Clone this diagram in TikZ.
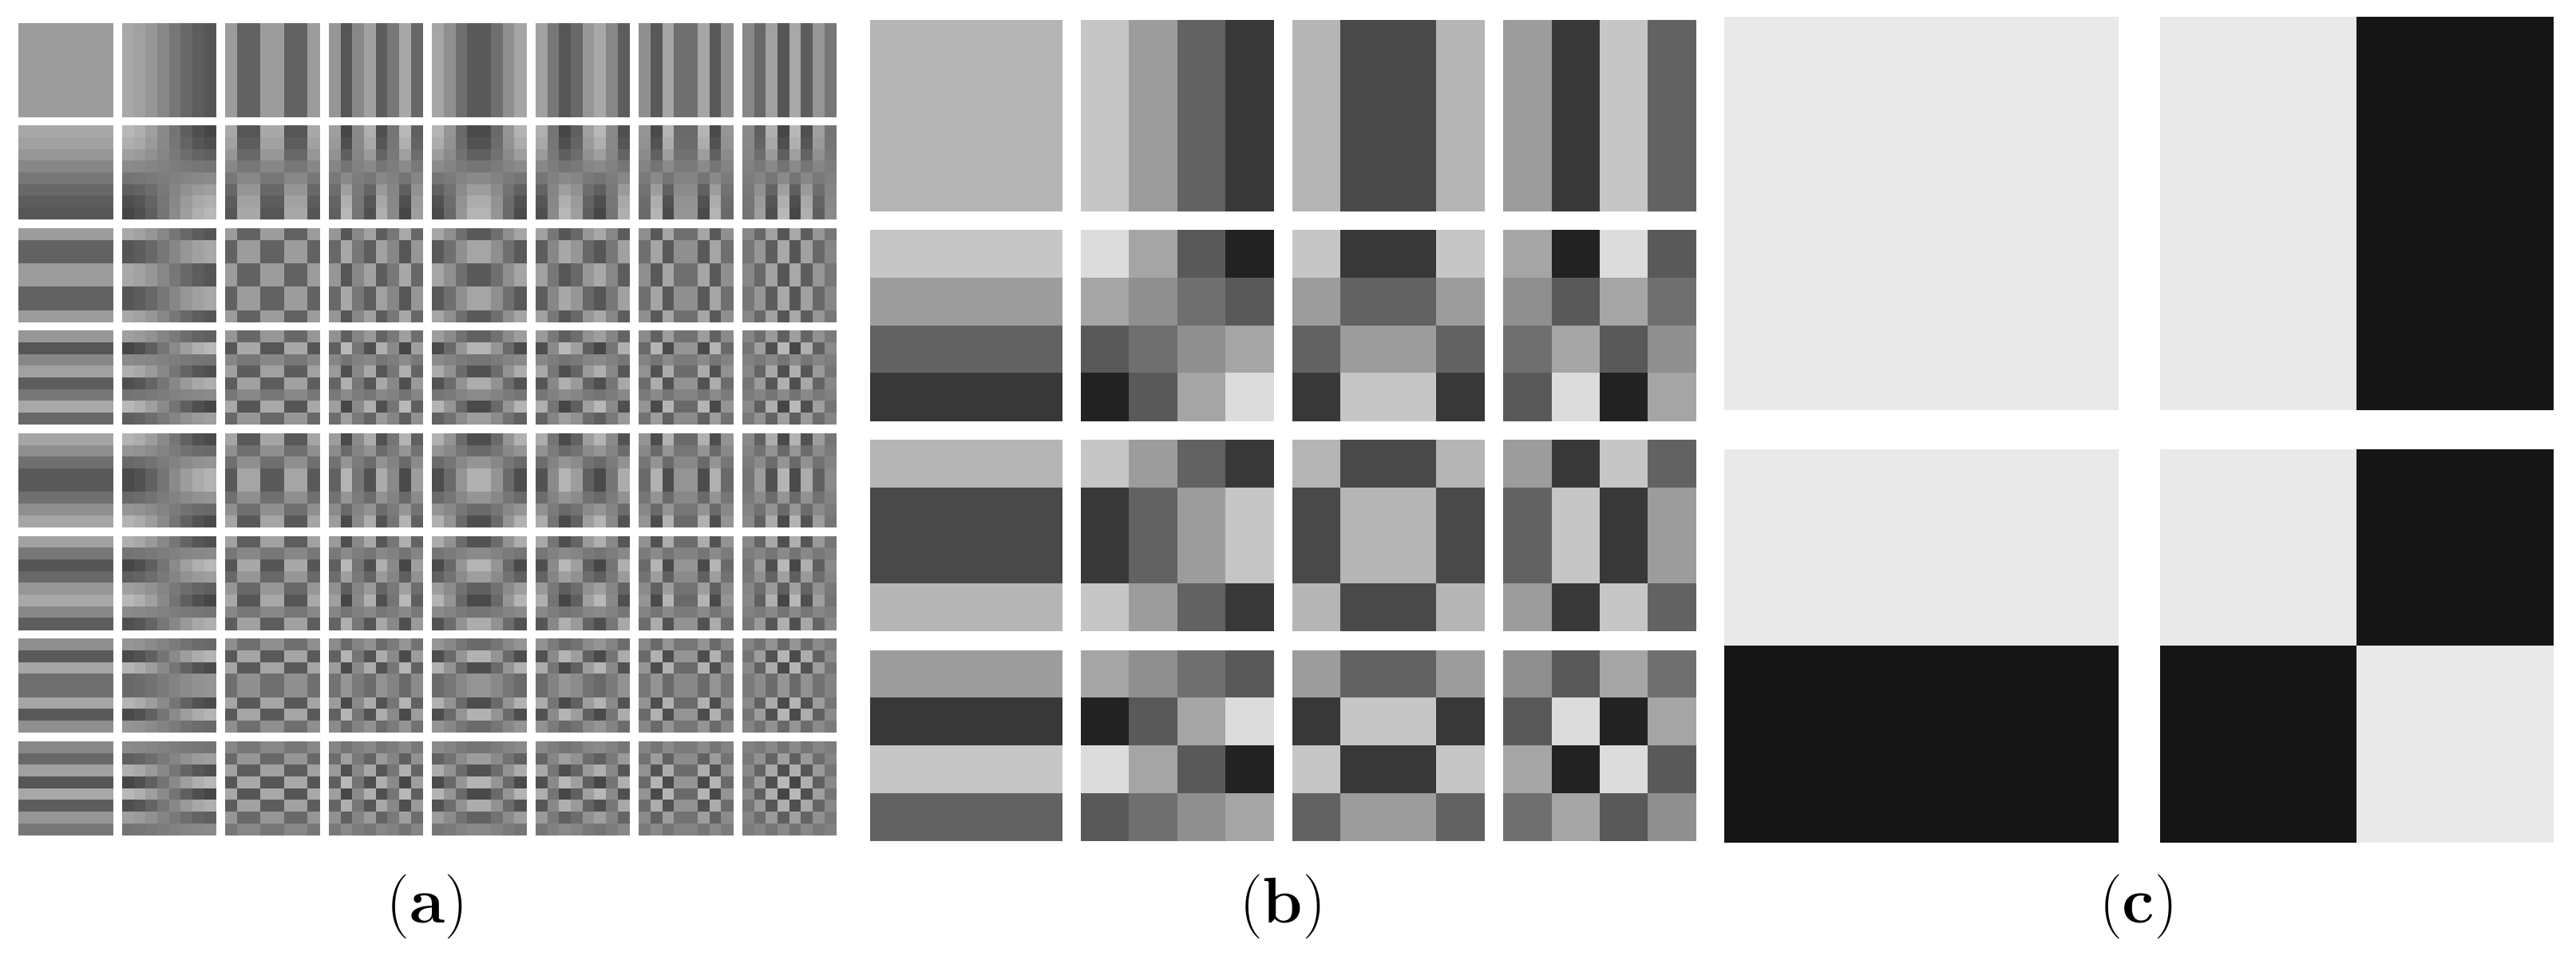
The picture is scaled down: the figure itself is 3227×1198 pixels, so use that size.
\documentclass[tikz,border=0pt]{standalone}
\usepackage{tikz}
% #1 N, #2 x0, #3 y0, #4 pitch x, #5 pitch y, #6 tile w, #7 tile h, #8 slope, #9 frequency order
\newcommand\DCTpanel[9]{%
  \pgfmathtruncatemacro\Nm{#1-1}%
  \foreach \tr in {0,...,\Nm}{%
   \foreach \tc in {0,...,\Nm}{%
    \pgfmathtruncatemacro\fu{#9[\tc]}%
    \pgfmathtruncatemacro\fv{#9[\tr]}%
    \pgfmathsetmacro\au{(\fu==0) ? sqrt(1/#1) : sqrt(2/#1)}%
    \pgfmathsetmacro\av{(\fv==0) ? sqrt(1/#1) : sqrt(2/#1)}%
    \foreach \uy in {0,...,\Nm}{%
     \foreach \ux in {0,...,\Nm}{%
      \pgfmathsetmacro\vv{\au*\av*cos((2*\ux+1)*\fu*90/#1)*cos((2*\uy+1)*\fv*90/#1)}%
      \pgfmathsetmacro\gg{max(0,min(1,(127+#8*\vv)/255))}%
      \definecolor{cellcol}{gray}{\gg}%
      \pgfmathsetmacro\px{#2+\tc*#4+\ux*#6/#1}%
      \pgfmathsetmacro\py{#3+\tr*#5+\uy*#7/#1}%
      \fill[cellcol] (\px,\py) rectangle ++({#6/#1+0.6},{#7/#1+0.6});%
     }}}}%
}
\tikzset{sublabel/.style={font=\fontsize{23}{27}\selectfont, inner sep=0pt}}
\begin{document}
\begin{tikzpicture}[x=0.01cm,y=-0.01cm]
\fill[white] (0,0) rectangle (3227,1198);
\useasboundingbox (0,0) rectangle (3227,1198);
% (a) 8x8 DCT basis
\DCTpanel{8}{23.3}{28.7}{129.5}{128.6}{117.7}{117.3}{235}{{0,1,4,5,2,3,6,7}}
% (b) 4x4 DCT basis
\DCTpanel{4}{1089.6}{24.7}{264.6}{263.3}{240.7}{239.3}{217}{{0,1,2,3}}
% (c) 2x2 DCT basis
\DCTpanel{2}{2160}{20.7}{545.7}{542}{493}{493}{212}{{0,1}}
\node[sublabel] (la) at (535.5,1136) {(\textbf{a})};
\node[sublabel] (lb) at (1607,1136) {(\textbf{b})};
\node[sublabel] (lc) at (2679,1136) {(\textbf{c})};
\end{tikzpicture}
\end{document}
